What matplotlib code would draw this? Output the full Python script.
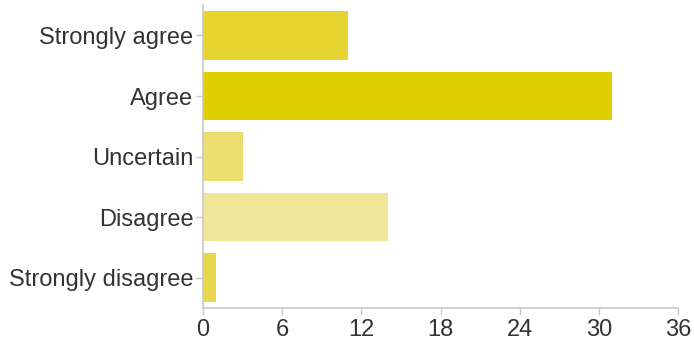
import matplotlib.pyplot as plt

categories = ["Strongly agree", "Agree", "Uncertain", "Disagree", "Strongly disagree"]
counts = [11, 31, 3, 14, 1]
colors = ["#e6d430", "#e0cf00", "#ebde6e", "#efe698", "#e6d84a"]
ticks = [0, 6, 12, 18, 24, 30, 36]

plt.rcParams["font.family"] = ["Liberation Sans", "DejaVu Sans"]

fig = plt.figure(figsize=(6.94, 3.43), dpi=100)
ax = fig.add_axes([0.2925, 0.102, 0.6845, 0.883])

ax.barh(categories, counts, height=0.8, color=colors)
ax.set_xlim(0, 36)
ax.set_ylim(4.5, -0.5)
ax.set_xticks(ticks)

for side in ["top", "right"]:
    ax.spines[side].set_visible(False)
for side in ["left", "bottom"]:
    ax.spines[side].set_color("#c8c8c8")
    ax.spines[side].set_linewidth(1.2)

ax.tick_params(axis="both", colors="#c8c8c8", labelcolor="#333333", labelsize=17, length=5, width=1)
ax.tick_params(axis="x", pad=3)
ax.tick_params(axis="y", pad=2)

fig.savefig("out.png", dpi=100)
